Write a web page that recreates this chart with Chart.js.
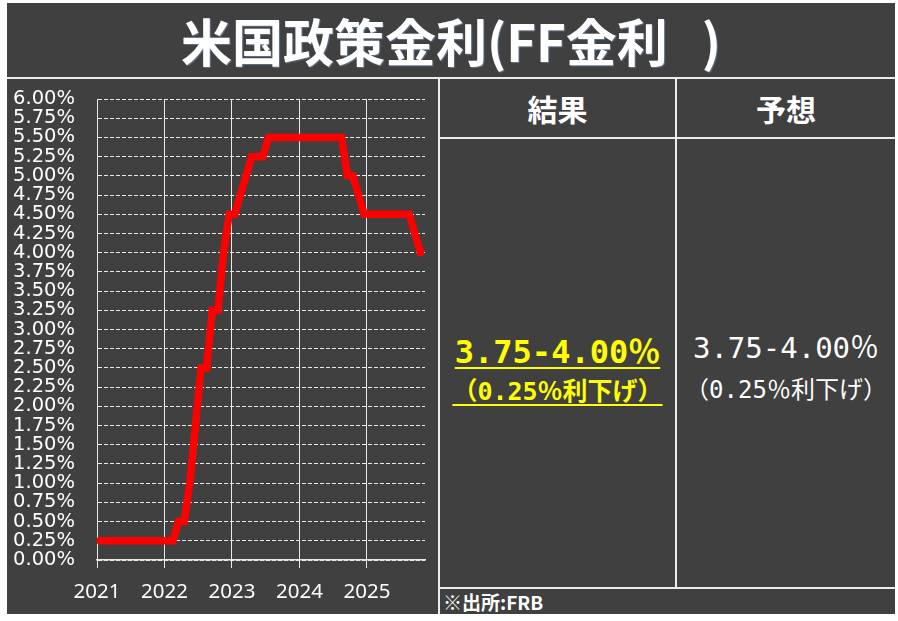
<!DOCTYPE html>
<html lang="ja">
<head>
<meta charset="utf-8">
<title>米国政策金利(FF金利)</title>
<script src="https://cdn.jsdelivr.net/npm/chart.js@4.4.1/dist/chart.umd.min.js"></script>
<style>
  html, body { margin: 0; padding: 0; background: #fff; }
  body { width: 898px; height: 621px; position: relative; overflow: hidden; font-family: "Noto Sans CJK JP", sans-serif; }
  #frame { position: absolute; left: 7px; top: 3px; width: 888px; height: 611px; background: #404040; }
  .rule { position: absolute; background: #ececec; }
  .txt { position: absolute; text-align: center; white-space: nowrap; color: #fff; }
  .num { font-family: "DejaVu Sans Mono", "Noto Sans CJK JP", monospace; }
  #title { left: 7px; top: 3px; width: 888px; height: 75px; line-height: 75px; font-size: 51px; font-weight: 700;
           text-shadow: 1px 1px 1px rgba(120, 150, 190, 0.6); }
  .head { top: 79px; height: 58px; line-height: 58px; font-size: 30px; font-weight: 700; }
  .left { left: 439px; width: 237px; }
  .right { left: 677px; width: 218px; }
  .hit { color: #ffff00; font-weight: 700; text-decoration: underline; text-decoration-thickness: 2px; text-underline-offset: 4px; }
  #src { left: 443px; top: 589px; height: 25px; line-height: 25px; font-size: 19px; font-weight: 700; text-align: left; }
  #ffChart { position: absolute; left: 7px; top: 79px; }
</style>
</head>
<body>
<div id="frame"></div>
<div class="txt" id="title">米国政策金利(FF金利<span style="margin-left:34px">)</span></div>

<div class="rule" style="left:7px;top:77px;width:888px;height:2px"></div>
<div class="rule" style="left:438px;top:78px;width:2px;height:536px"></div>
<div class="rule" style="left:439px;top:137px;width:456px;height:2px"></div>
<div class="rule" style="left:675px;top:78px;width:2px;height:510px"></div>
<div class="rule" style="left:439px;top:587px;width:456px;height:2px"></div>

<div class="txt head left">結果</div>
<div class="txt head right">予想</div>

<div class="txt num left hit" style="top:332px;height:40px;line-height:40px;font-size:32px">3.75-4.00％</div>
<div class="txt num left hit" style="top:377px;height:30px;line-height:30px;font-size:25px">（0.25％利下げ）</div>
<div class="txt num right" style="top:330px;height:36px;line-height:36px;font-size:29px">3.75-4.00％</div>
<div class="txt num right" style="top:375px;height:30px;line-height:30px;font-size:24px">（0.25％利下げ）</div>

<div class="txt" id="src">※出所:FRB</div>

<canvas id="ffChart" width="431" height="535"></canvas>

<script>
// monthly FF rate (upper bound, %), Jan..Dec of each year
const years = [2021, 2022, 2023, 2024, 2025];
const rates2021 = [0.25, 0.25, 0.25, 0.25, 0.25, 0.25, 0.25, 0.25, 0.25, 0.25, 0.25, 0.25];
const rates2022 = [0.25, 0.25, 0.50, 0.50, 1.00, 1.75, 2.50, 2.50, 3.25, 3.25, 4.00, 4.50];
const rates2023 = [4.50, 4.75, 5.00, 5.25, 5.25, 5.25, 5.50, 5.50, 5.50, 5.50, 5.50, 5.50];
const rates2024 = [5.50, 5.50, 5.50, 5.50, 5.50, 5.50, 5.50, 5.50, 5.00, 5.00, 4.75, 4.50];
const rates2025 = [4.50, 4.50, 4.50, 4.50, 4.50, 4.50, 4.50, 4.50, 4.25, 4.00];

const yearTicks = [2021, 2022, 2023, 2024, 2025];
const xMin = 2021;
const xMax = 2025.86;
const yMax = 6;
const yStep = 0.25;

// place each month in the middle of its month on a decimal-year axis
var points = [];
[rates2021, rates2022, rates2023, rates2024, rates2025].forEach(function (list, i) {
    list.forEach(function (v, m) {
        points.push({ x: years[i] + (m + 0.5) / 12, y: v });
    });
});

var lineColor = '#e8e8e8';

new Chart(document.getElementById('ffChart'), {
    type: 'line',
    data: {
        datasets: [{
            label: 'FF金利',
            data: points,
            borderColor: '#ff0000',
            borderWidth: 7.5,
            borderCapStyle: 'round',
            borderJoinStyle: 'miter',
            pointRadius: 0,
            tension: 0,
            fill: false
        }]
    },
    options: {
        responsive: false,
        animation: false,
        layout: { padding: { left: 0, right: 13, top: 20, bottom: 0 } },
        plugins: {
            legend: { display: false },
            tooltip: { enabled: false }
        },
        scales: {
            x: {
                type: 'linear',
                min: xMin,
                max: xMax,
                afterBuildTicks: function (axis) {
                    axis.ticks = yearTicks.map(function (v) { return { value: v }; });
                },
                afterFit: function (axis) { axis.height = 54; },
                grid: { color: lineColor, lineWidth: 1, drawTicks: true, tickLength: 8, tickColor: lineColor },
                border: { display: true, color: lineColor, width: 1.5 },
                ticks: {
                    color: '#fff',
                    font: { family: 'Noto Sans', size: 20.5 },
                    padding: 12,
                    autoSkip: false,
                    maxRotation: 0,
                    callback: function (v) { return String(v); }
                }
            },
            y: {
                min: 0,
                max: yMax,
                afterFit: function (axis) {
                    // fixed axis width, and no extra room above the top label
                    axis.width = 90;
                    axis.paddingTop = 0;
                    axis.paddingBottom = 0;
                },
                grid: { color: lineColor, lineWidth: 1, drawTicks: false },
                border: { display: true, color: lineColor, width: 1, dash: [4, 2] },
                ticks: {
                    stepSize: yStep,
                    autoSkip: false,
                    color: '#fff',
                    font: { family: 'DejaVu Sans', size: 19.5 },
                    padding: 22,
                    callback: function (v) { return v.toFixed(2) + '%'; }
                }
            }
        }
    }
});
</script>
</body>
</html>
